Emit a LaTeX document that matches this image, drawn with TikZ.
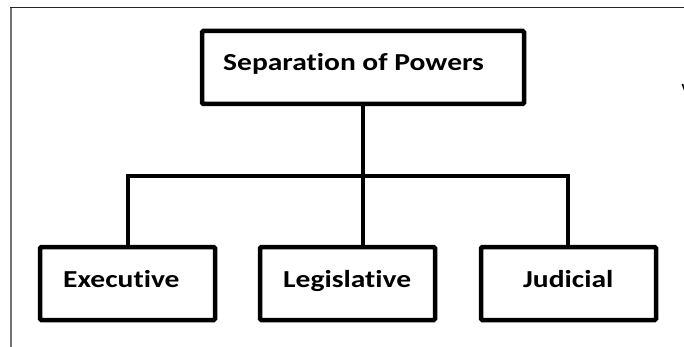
\documentclass[tikz,border=0pt]{standalone}
\usepackage{graphicx}
\usepackage{fontspec}
\setmainfont[Ligatures={NoCommon}]{Carlito}
\newcommand{\wide}[1]{\scalebox{1.21}[1]{#1}}
\begin{document}
\begin{tikzpicture}[x=1pt,y=-1pt,
  box/.style={draw=black, line width=4.5pt, rounded corners=1.2pt, inner sep=0pt,
    minimum width=175pt, minimum height=73pt},
  topbox/.style={box, minimum width=322pt},
  conn/.style={draw=black, line width=4pt},
  lbl/.style={anchor=base west, inner sep=0pt, font=\fontsize{24.4}{28}\selectfont\bfseries}]
\useasboundingbox (0,0) rectangle (684,347);
\fill[white] (0,0) rectangle (684,347);
% frame
\draw[black!55, line width=1.8pt] (11,347) -- (11,7.5);
\draw[black!85, line width=1.1pt] (10.1,7.5) -- (684,7.5);
% boxes
\node[topbox] (top) at (363,67.5) {};
\node[box] (exec) at (127.5,283.5) {};
\node[box] (leg) at (347.5,283.5) {};
\node[box] (jud) at (568.5,283.5) {};
% labels
\node[lbl] (ttop) at (223,70.5) {\wide{Separation of Powers}};
\node[lbl] (texec) at (63,287) {\wide{Executive}};
\node[lbl] (tleg) at (283,287) {\wide{Legislative}};
\node[lbl] (tjud) at (523,287) {\wide{Judicial}};
% connectors
\coordinate (bar) at (363,176);
\draw[conn] (top.south) -- (top.south |- leg.north);
\draw[conn] (exec.north -| 128,0) |- (bar) -| (jud.north -| 568,0);
% cut-off glyph at the right edge, as in the reference
\node[lbl, anchor=north west, font=\fontsize{14}{16}\selectfont\bfseries] (stray) at (681.5,84) {V};
\end{tikzpicture}
\end{document}
